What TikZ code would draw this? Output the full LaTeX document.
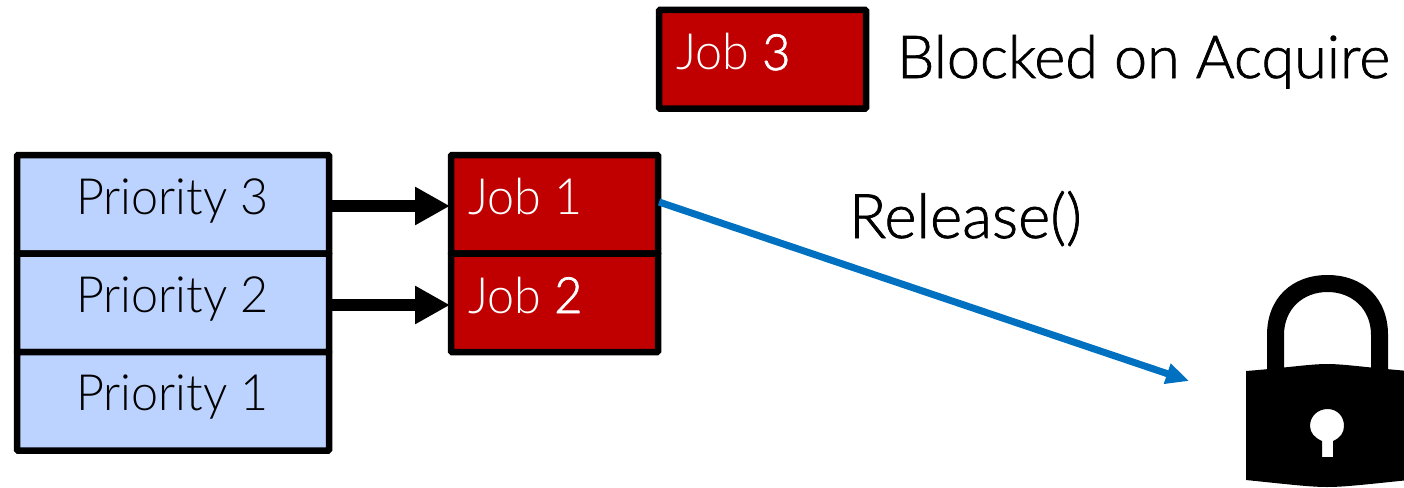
\documentclass[tikz,border=0pt]{standalone}
\usepackage{fontspec}
\setmainfont{Lato Light}[FakeStretch=0.97]
\newfontfamily\bigfont{Lato Light}[FakeBold=1.2]
\newfontfamily\digitfont{Lato Light}[FakeBold=1.5,FakeStretch=0.97]
\usetikzlibrary{arrows.meta}
\definecolor{prioblue}{HTML}{BDD3FF}
\definecolor{jobred}{HTML}{C00000}
\definecolor{relblue}{HTML}{0070C0}
\tikzset{
  x=1pt,y=-1pt,
  box/.style={draw=black,line width=6.5pt,rounded corners=1pt,minimum height=98.5pt,inner sep=0pt,outer sep=0pt,anchor=north west},
  prio/.style={box,fill=prioblue,minimum width=312pt},
  job/.style={box,fill=jobred,minimum width=207pt},
  priotext/.style={anchor=base,inner sep=0pt,text=black,font=\fontsize{50}{50}\selectfont},
  jobtext/.style={anchor=base west,inner sep=0pt,text=white,font=\fontsize{50}{50}\selectfont},
  heavy/.style={draw=black,line width=12pt,-{Triangle[length=35pt,width=36pt]},shorten >=-1pt},
  release/.style={draw=relblue,line width=7pt,-{Triangle[length=23pt,width=20pt]}},
  plain/.style={anchor=base west,inner sep=0pt,outer sep=0pt,text=black}
}
\begin{document}
\begin{tikzpicture}
\useasboundingbox (0,0) rectangle (1404,487);
\node[prio] (p3) at (17,155) {};
\node[prio] (p2) at (17,253.5) {};
\node[prio] (p1) at (17,352) {};
\node[priotext] (t3) at (172.5,214) {Priority 3};
\node[priotext] (t2) at (172.5,312) {Priority 2};
\node[priotext] (t1) at (172.5,410) {Priority 1};
\node[job] (j1) at (451,155) {};
\node[job] (j2) at (451,253.5) {};
\node[job] (j3) at (659,10) {};
\node[jobtext] (jt1) at (468,214) {Job 1};
\node[jobtext] (jt2) at (468,313) {Job {\digitfont 2}};
\node[jobtext] (jt3) at (676,70) {Job {\digitfont 3}};
\node[plain,font=\fontsize{59.3}{60}\bigfont] (blocked) at (897,78) {Blocked on Acquire};
\node[plain,font=\fontsize{61.5}{60}\bigfont] (rel) at (849,238) {Release()};
\coordinate (a1s) at (330,206);
\coordinate (a1e) at (449,206);
\coordinate (a2s) at (330,305);
\coordinate (a2e) at (449,305);
\draw[heavy] (a1s) -- (a1e);
\draw[heavy] (a2s) -- (a2e);
\coordinate (rs) at (659,202);
\coordinate (re) at (1189,381);
\draw[release] (rs) -- (re);
% padlock
\begin{scope}
\clip (0,0) rectangle (1404,487);
\fill[black] (1267,372) -- (1267,335) .. controls (1267,298) and (1292,275) .. (1327.5,275) .. controls (1363,275) and (1388,298) .. (1388,335) -- (1388,372) -- (1371,372) -- (1371,335) .. controls (1371,309) and (1352,292) .. (1327.5,292) .. controls (1303,292) and (1284,309) .. (1284,335) -- (1284,372) -- cycle;
\fill[black,even odd rule] (1246,371) .. controls (1285,368) and (1310,364) .. (1327,364) .. controls (1345,364) and (1370,368) .. (1409,371) -- (1409,480) .. controls (1370,484) and (1345,487) .. (1327,487) .. controls (1310,487) and (1285,484) .. (1246,480) -- cycle
 (1322,457) -- (1333,457) -- (1333,441) .. controls (1340,438) and (1344,433) .. (1344,426) .. controls (1344,416) and (1337,409) .. (1327.5,409) .. controls (1318,409) and (1310,416) .. (1310,426) .. controls (1310,433) and (1315,438) .. (1322,441) -- cycle;
\end{scope}
\end{tikzpicture}
\end{document}
